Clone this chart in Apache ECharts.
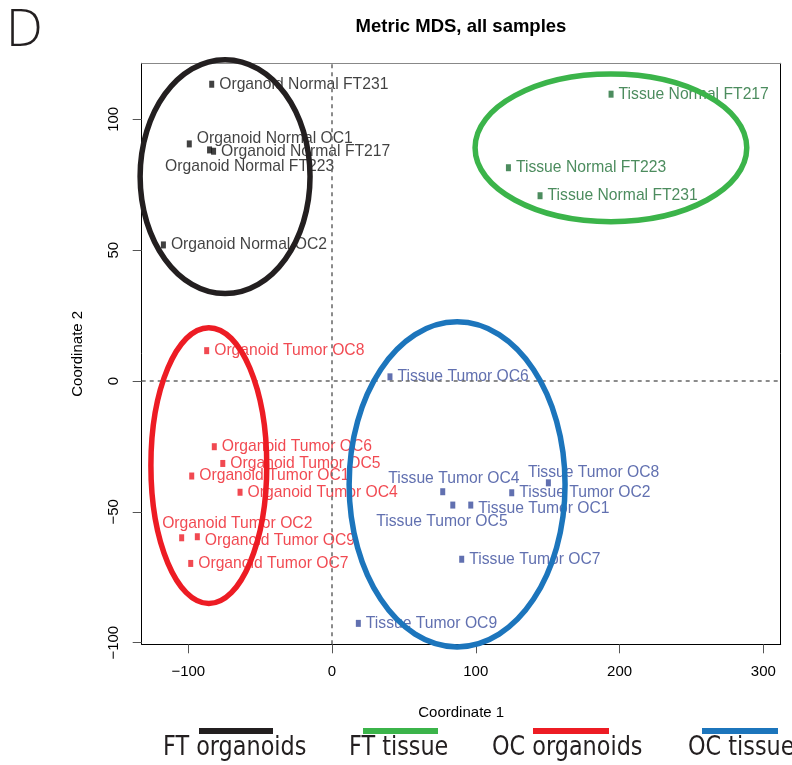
<!DOCTYPE html>
<html>
<head>
<meta charset="utf-8">
<script src="https://cdn.jsdelivr.net/npm/echarts@6/dist/echarts.min.js"></script>
<style>
  html, body { margin: 0; padding: 0; background: #fff; }
  #chart { width: 792px; height: 765px; }
</style>
</head>
<body>
<div id="chart"></div>
<script>
// Axis ticks
const xTicks = [-100, 0, 100, 200, 300];
const yTicks = [-100, -50, 0, 50, 100];

// Sample coordinates (Coordinate 1, Coordinate 2)
const organoidNormalNames = ['Organoid Normal FT231', 'Organoid Normal OC1', 'Organoid Normal FT217', 'Organoid Normal FT223', 'Organoid Normal OC2'];
const organoidNormalX = [-83.7, -99.3, -82.4, -85.2, -117.3];
const organoidNormalY = [113.4, 90.6, 87.8, 88.3, 52.0];

const tissueNormalNames = ['Tissue Normal FT217', 'Tissue Normal FT223', 'Tissue Normal FT231'];
const tissueNormalX = [194.1, 122.7, 144.7];
const tissueNormalY = [109.6, 81.5, 70.8];

const organoidTumorNames = ['Organoid Tumor OC8', 'Organoid Tumor OC6', 'Organoid Tumor OC5', 'Organoid Tumor OC1', 'Organoid Tumor OC4', 'Organoid Tumor OC2', 'Organoid Tumor OC9', 'Organoid Tumor OC7'];
const organoidTumorX = [-87.2, -81.9, -76.0, -97.6, -64.0, -104.6, -93.7, -98.3];
const organoidTumorY = [11.6, -25.1, -31.5, -36.3, -42.5, -59.9, -59.5, -69.7];

const tissueTumorNames = ['Tissue Tumor OC6', 'Tissue Tumor OC4', 'Tissue Tumor OC5', 'Tissue Tumor OC1', 'Tissue Tumor OC2', 'Tissue Tumor OC8', 'Tissue Tumor OC7', 'Tissue Tumor OC9'];
const tissueTumorX = [40.3, 77.0, 84.0, 96.5, 125.0, 150.5, 90.2, 18.3];
const tissueTumorY = [1.6, -42.3, -47.4, -47.4, -42.7, -38.9, -68.1, -92.6];

// Group ellipses: centre and semi-axes in data units
const groupNames = ['FT organoids', 'FT tissue', 'OC organoids', 'OC tissue'];
const ellipseCX = [-74.4, 194.0, -85.7, 87.0];
const ellipseCY = [78.1, 89.1, -32.3, -39.5];
const ellipseRX = [59.1, 94.5, 40.3, 75.1];
const ellipseRY = [44.7, 28.2, 52.7, 62.1];

const groupColors = ['#231f20', '#3bb44a', '#ed1c24', '#1c75bc'];

// Label nudges (px) for crowded points
const labelNudge = {
  'Organoid Normal OC1': [0, -5],
  'Organoid Normal FT223': [-52, 17],
  'Organoid Tumor OC2': [-27, -14],
  'Organoid Tumor OC9': [0, 4],
  'Tissue Tumor OC4': [-62, -13],
  'Tissue Tumor OC5': [-84, 17],
  'Tissue Tumor OC8': [-28, -10],
  'Tissue Tumor OC1': [0, 4]
};

const FONT = '"Liberation Sans", Arial, Helvetica, sans-serif';
const KEY_FONT = '"DejaVu Sans Condensed", "DejaVu Sans", sans-serif';
const minus = v => String(v).replace('-', '\u2212');

function scatterSeries(names, xs, ys, color) {
  return {
    type: 'scatter',
    z: 2,
    symbol: 'rect',
    symbolSize: [5, 7],
    itemStyle: { color: color },
    label: {
      show: true,
      position: 'right',
      distance: 5,
      formatter: '{b}',
      color: color,
      fontFamily: FONT,
      fontSize: 15.7
    },
    labelLayout: function (params) {
      const d = labelNudge[names[params.dataIndex]];
      return d ? { dx: d[0], dy: d[1] } : {};
    },
    data: names.map((n, i) => ({ name: n, value: [xs[i], ys[i]] }))
  };
}

const ellipseData = groupNames.map((g, i) => [ellipseCX[i], ellipseCY[i], ellipseRX[i], ellipseRY[i], i]);

const chart = echarts.init(document.getElementById('chart'), null, { renderer: 'canvas' });

function keyText(i, x) {
  return {
    type: 'text', x: x, y: 748, scaleX: 0.92,
    style: { text: groupNames[i], verticalAlign: 'middle', align: 'left', fontFamily: KEY_FONT, fontSize: 27, fill: '#231f20' }
  };
}
function keyLine(i, x1, x2) {
  return { type: 'line', shape: { x1: x1, y1: 731, x2: x2, y2: 731 }, style: { stroke: groupColors[i], lineWidth: 6 } };
}

chart.setOption({
  backgroundColor: '#fff',
  animation: false,
  title: {
    text: 'Metric MDS, all samples',
    left: 456,
    top: 12,
    textAlign: 'center',
    textStyle: { fontFamily: FONT, fontWeight: 'bold', fontSize: 18.5, color: '#000' }
  },
  grid: { left: 141.7, right: 11.3, top: 63.3, bottom: 120.7 },
  xAxis: [
    {
      type: 'value', min: -132.4, max: 312.1, position: 'bottom',
      axisLine: { show: true, onZero: false, lineStyle: { color: '#000', width: 1 } },
      axisTick: { show: true, customValues: xTicks, length: 9, lineStyle: { color: '#555', width: 1 } },
      axisLabel: { customValues: xTicks, formatter: minus, margin: 20, fontFamily: FONT, fontSize: 15, color: '#000' },
      splitLine: { show: false },
      name: 'Coordinate 1', nameLocation: 'middle', nameGap: 61,
      nameTextStyle: { fontFamily: FONT, fontSize: 15, color: '#000' }
    },
    {
      type: 'value', min: -132.4, max: 312.1, position: 'top',
      axisLine: { show: true, onZero: false, lineStyle: { color: '#888', width: 1.2 } },
      axisTick: { show: false }, axisLabel: { show: false }, splitLine: { show: false }
    }
  ],
  yAxis: [
    {
      type: 'value', min: -100.6, max: 121.4, position: 'left',
      axisLine: { show: true, onZero: false, lineStyle: { color: '#000', width: 1 } },
      axisTick: { show: true, customValues: yTicks, length: 9, lineStyle: { color: '#555', width: 1 } },
      axisLabel: { customValues: yTicks, formatter: minus, rotate: 90, margin: 20, fontFamily: FONT, fontSize: 15, color: '#000' },
      splitLine: { show: false },
      name: 'Coordinate 2', nameLocation: 'middle', nameGap: 56, nameRotate: 90,
      nameTextStyle: { fontFamily: FONT, fontSize: 15, color: '#000' }
    },
    {
      type: 'value', min: -100.6, max: 121.4, position: 'right',
      axisLine: { show: true, onZero: false, lineStyle: { color: '#000', width: 1 } },
      axisTick: { show: false }, axisLabel: { show: false }, splitLine: { show: false }
    }
  ],
  series: [
    // dashed reference lines through the origin
    {
      type: 'scatter', data: [], silent: true, z: 1,
      markLine: {
        silent: true, symbol: 'none', label: { show: false },
        lineStyle: { type: [4, 4], color: '#666', width: 1.5 },
        data: [{ xAxis: 0 }, { yAxis: 0 }]
      }
    },
    scatterSeries(organoidNormalNames, organoidNormalX, organoidNormalY, '#111111'),
    scatterSeries(tissueNormalNames, tissueNormalX, tissueNormalY, '#1f6f36'),
    scatterSeries(organoidTumorNames, organoidTumorX, organoidTumorY, '#ee1c25'),
    scatterSeries(tissueTumorNames, tissueTumorX, tissueTumorY, '#3a4c9c'),
    // group ellipses
    {
      type: 'custom',
      z: 10,
      clip: false,
      silent: true,
      data: ellipseData,
      renderItem: function (params, api) {
        const c = api.coord([api.value(0), api.value(1)]);
        const s = api.size([api.value(2), api.value(3)]);
        return {
          type: 'ellipse',
          shape: { cx: c[0], cy: c[1], rx: s[0], ry: s[1] },
          style: { fill: 'none', stroke: groupColors[api.value(4)], lineWidth: 5.5 }
        };
      }
    }
  ],
  graphic: [
    { type: 'text', left: 6, top: 5, style: { text: 'D', fontFamily: '"Open Sans", ' + FONT, fontWeight: 300, fontSize: 52, fill: '#231f20' } },
    // group key below the axis
    keyLine(0, 199, 273), keyLine(1, 363, 438), keyLine(2, 533, 609), keyLine(3, 702, 778),
    keyText(0, 163), keyText(1, 349), keyText(2, 492), keyText(3, 688)
  ]
});
</script>
</body>
</html>
